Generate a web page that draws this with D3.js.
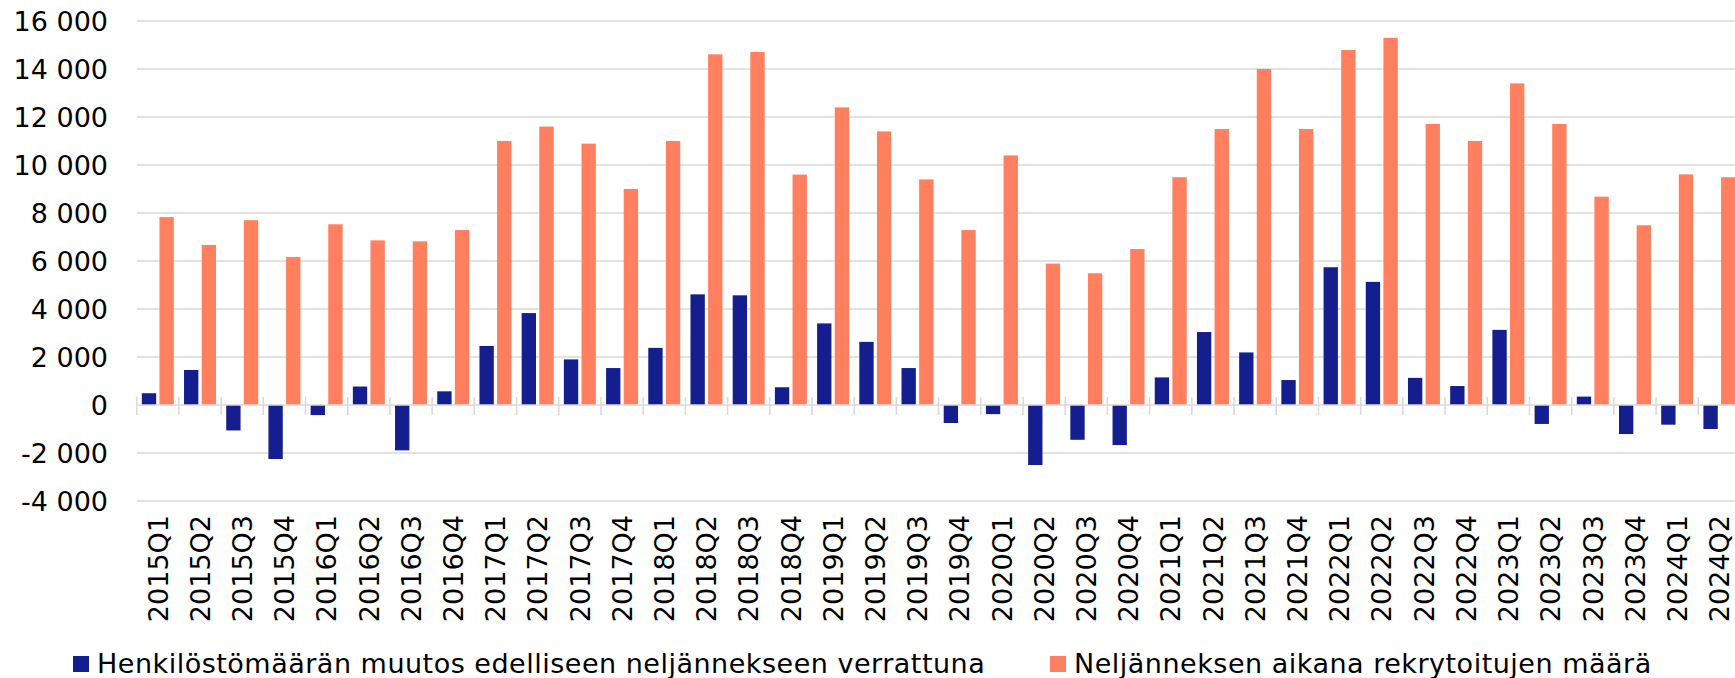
<!DOCTYPE html>
<html>
<head>
<meta charset="utf-8">
<script src="https://cdn.jsdelivr.net/npm/d3@7"></script>
<style>
  html, body { margin: 0; padding: 0; background: #fff; overflow: hidden; }
  svg { display: block; font-family: "DejaVu Sans", Verdana, sans-serif; }
</style>
</head>
<body>
<svg id="chart" width="1735" height="678"></svg>
<script>
const categories = [
  "2015Q1","2015Q2","2015Q3","2015Q4",
  "2016Q1","2016Q2","2016Q3","2016Q4",
  "2017Q1","2017Q2","2017Q3","2017Q4",
  "2018Q1","2018Q2","2018Q3","2018Q4",
  "2019Q1","2019Q2","2019Q3","2019Q4",
  "2020Q1","2020Q2","2020Q3","2020Q4",
  "2021Q1","2021Q2","2021Q3","2021Q4",
  "2022Q1","2022Q2","2022Q3","2022Q4",
  "2023Q1","2023Q2","2023Q3","2023Q4",
  "2024Q1","2024Q2"
];
// Henkilöstömäärän muutos edelliseen neljännekseen verrattuna
const changeValues = [
  490, 1460, -1060, -2250,
  -420, 770, -1890, 570,
  2460, 3830, 1900, 1540,
  2380, 4610, 4570, 740,
  3400, 2630, 1540, -750,
  -380, -2500, -1450, -1670,
  1150, 3040, 2190, 1040,
  5740, 5130, 1130, 790,
  3130, -790, 350, -1210,
  -820, -1000
];
// Neljänneksen aikana rekrytoitujen määrä
const recruitValues = [
  7830, 6670, 7700, 6170,
  7530, 6860, 6820, 7290,
  11000, 11600, 10890, 9000,
  11000, 14610, 14710, 9600,
  12400, 11400, 9400, 7290,
  10400, 5890, 5490, 6500,
  9490, 11500, 14000, 11500,
  14790, 15300, 11710, 11000,
  13400, 11710, 8680, 7490,
  9610, 9490
];
const seriesNames = [
  "Henkilöstömäärän muutos edelliseen neljännekseen verrattuna",
  "Neljänneksen aikana rekrytoitujen määrä"
];
const yTicks = [-4000, -2000, 0, 2000, 4000, 6000, 8000, 10000, 12000, 14000, 16000];

const colors = ["#151E8F", "#FF7F5E"];
const fontSize = 27;

const svg = d3.select("#chart");
const plotLeft = 136.7, plotRight = 1740.5, plotTop = 21, plotBottom = 501;

const x = d3.scaleBand().domain(categories).range([plotLeft, plotRight]).padding(0);
const x1 = d3.scaleBand().domain(["a", "b"]).range([0, x.bandwidth()])
  .paddingInner(0.1875).paddingOuter(0.29);
const y = d3.scaleLinear().domain([-4000, 16000]).range([plotBottom, plotTop]);

const fmt = d3.formatLocale({decimal: ",", thousands: " ", grouping: [3], currency: ["", ""], minus: "-"}).format(",d");

// gridlines
svg.append("g").selectAll("line").data(yTicks.filter(d => d !== 0)).join("line")
  .attr("x1", plotLeft).attr("x2", plotRight)
  .attr("y1", d => y(d)).attr("y2", d => y(d))
  .attr("stroke", "#D9D9DD").attr("stroke-width", 1.5);

// y labels
svg.append("g").selectAll("text").data(yTicks).join("text")
  .attr("x", 108).attr("y", d => y(d)).attr("dy", "0.36em")
  .attr("text-anchor", "end").attr("font-size", fontSize).attr("fill", "#000")
  .text(d => fmt(d));

// bars
const rows = categories.map((c, i) => ({c, a: changeValues[i], b: recruitValues[i]}));
const g = svg.append("g");
g.selectAll("rect.a").data(rows).join("rect").attr("class", "a")
  .attr("x", d => x(d.c) + x1("a")).attr("width", x1.bandwidth())
  .attr("y", d => y(Math.max(0, d.a))).attr("height", d => Math.abs(y(d.a) - y(0)))
  .attr("fill", colors[0]);
g.selectAll("rect.b").data(rows).join("rect").attr("class", "b")
  .attr("x", d => x(d.c) + x1("b")).attr("width", x1.bandwidth())
  .attr("y", d => y(Math.max(0, d.b))).attr("height", d => Math.abs(y(d.b) - y(0)))
  .attr("fill", colors[1]);

// zero axis line + ticks
const y0 = y(0);
svg.append("line").attr("x1", plotLeft).attr("x2", plotRight).attr("y1", y0).attr("y2", y0)
  .attr("stroke", "#D9D9DD").attr("stroke-width", 1.5);
svg.append("g").selectAll("line").data(categories).join("line")
  .attr("x1", d => x(d)).attr("x2", d => x(d))
  .attr("y1", y0 - 8).attr("y2", y0 + 10)
  .attr("stroke", "#D9D9DD").attr("stroke-width", 1.5);

// x labels
svg.append("g").selectAll("text").data(categories).join("text")
  .attr("transform", d => `translate(${x(d) + x.bandwidth() / 2},515) rotate(-90)`)
  .attr("dy", "0.36em").attr("text-anchor", "end")
  .attr("font-size", fontSize).attr("fill", "#000")
  .text(d => d);

// legend
const legend = [{x: 73, tx: 97}, {x: 1050, tx: 1074}];
legend.forEach((l, i) => {
  svg.append("rect").attr("x", l.x).attr("y", 656).attr("width", 16).attr("height", 16).attr("fill", colors[i]);
  svg.append("text").attr("x", l.tx).attr("y", 673).attr("font-size", fontSize)
    .attr("letter-spacing", 0.5).attr("fill", "#000").text(seriesNames[i]);
});
</script>
</body>
</html>
